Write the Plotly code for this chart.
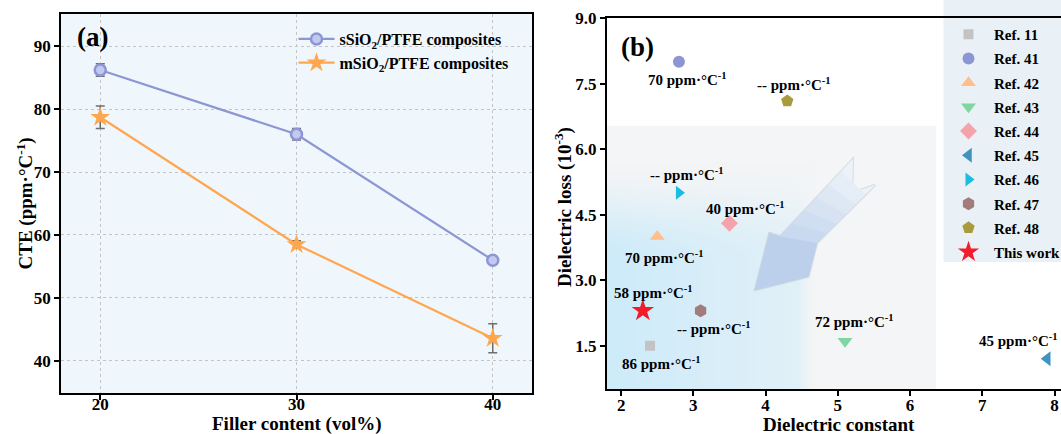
import base64, struct, zlib
import numpy as np
import plotly.graph_objects as go

# ---------------- data ----------------
filler = [20, 30, 40]
s_cte = [86.2, 76.0, 56.0]
s_err = [1.0, 0.9, 0.6]
m_cte = [78.7, 58.5, 43.6]
m_err = [1.8, 0.6, 2.3]

ref_names = ["Ref. 11", "Ref. 41", "Ref. 42", "Ref. 43", "Ref. 44",
             "Ref. 45", "Ref. 46", "Ref. 47", "Ref. 48", "This work"]
ref_dk = [2.4, 2.8, 2.5, 5.1, 3.5, 7.9, 2.8, 3.1, 4.3, 2.3]
ref_df = [1.5, 8.0, 4.0, 1.6, 4.3, 1.2, 5.0, 2.3, 7.1, 2.3]
ref_cte = ["86", "70", "70", "72", "40", "45", "--", "--", "--", "58"]

# ---------------- styles ----------------
ref_symbols = ["square", "circle", "triangle-up", "triangle-down", "diamond",
               "triangle-left", "triangle-right", "hexagon", "pentagon", "star"]
ref_colors = ["#c3c3c3", "#8c96d2", "#ffbe8c", "#80d6a0", "#f5a3aa",
              "#3f94bf", "#18bde0", "#a27c7c", "#a99a3d", "#f21c2a"]
ref_sizes = [10, 12, 13, 13, 13, 13, 12, 13, 13, 17]
# label offsets in pixels (xshift, yshift)
label_shift = [(11, -17), (9, -17), (7, -21), (9, 20), (16, 15),
               (-29, 19), (8, 19), (13, -17), (7, 17), (11, 19)]

FONT = "Liberation Serif, Times New Roman, serif"
W, H = 1061, 434

def px(x):
    return x / W

def py(y):
    return 1 - y / H

def png_uri(arr):
    h, w, _ = arr.shape
    raw = b"".join(b"\x00" + arr[r].tobytes() for r in range(h))
    def chunk(t, d):
        return struct.pack(">I", len(d)) + t + d + struct.pack(">I", zlib.crc32(t + d) & 0xffffffff)
    png = (b"\x89PNG\r\n\x1a\n" + chunk(b"IHDR", struct.pack(">IIBBBBB", w, h, 8, 6, 0, 0, 0))
           + chunk(b"IDAT", zlib.compress(raw, 9)) + chunk(b"IEND", b""))
    return "data:image/png;base64," + base64.b64encode(png).decode()

def smooth(t):
    t = np.clip(t, 0, 1)
    return t * t * (3 - 2 * t)

# background gradient for panel (b)
gx0, gx1, gy0, gy1 = 1.8, 6.36, 0.5, 6.53
n = 200
u = (np.arange(n) + 0.5) / n
v = 1 - (np.arange(n) + 0.5) / n
U, V = np.meshgrid(u, v)
xd = gx0 + U * (gx1 - gx0)
yd = gy0 + V * (gy1 - gy0)
fx = (1 - 0.55 * (xd - 1.8) / 2.7) * (1 - smooth((xd - 4.42) / 0.25))
gy = smooth((5.7 - yd) / 2.3)
sb = np.clip(fx * gy, 0, 1)[..., None]
blue = np.array([205, 235, 250])
gray = np.array([243, 245, 246])
rgb = blue[None, None, :] * sb + gray[None, None, :] * (1 - sb)
img = np.concatenate([rgb, np.full((n, n, 1), 255)], axis=2).astype(np.uint8)
grad_uri = png_uri(img)

fig = go.Figure()

# ---------------- panel (a) ----------------
fig.add_trace(go.Scatter(
    x=filler, y=s_cte, mode="lines+markers", name="sSiO<sub>2</sub>/PTFE composites",
    line=dict(color="#8c96d4", width=2.2),
    marker=dict(symbol="circle", size=11, color="#c3c9ee", line=dict(color="#8c96d4", width=2.5)),
    error_y=dict(type="data", array=s_err, color="#6e6e6e", thickness=1.5, width=4.5),
    xaxis="x", yaxis="y", legend="legend2"))
fig.add_trace(go.Scatter(
    x=filler, y=m_cte, mode="lines+markers", name="mSiO<sub>2</sub>/PTFE composites",
    line=dict(color="#ffa64f", width=2.2),
    marker=dict(symbol="star", size=15, color="#ffa64f"),
    error_y=dict(type="data", array=m_err, color="#6e6e6e", thickness=1.5, width=4.5),
    xaxis="x", yaxis="y", legend="legend2"))

# ---------------- panel (b) ----------------
for i, nm in enumerate(ref_names):
    fig.add_trace(go.Scatter(
        x=[ref_dk[i]], y=[ref_df[i]], mode="markers", name=nm,
        marker=dict(symbol=ref_symbols[i], size=ref_sizes[i], color=ref_colors[i]),
        xaxis="x2", yaxis="y2", legend="legend", legendgroup=nm))

annotations = []
for i, nm in enumerate(ref_names):
    annotations.append(dict(
        x=ref_dk[i], y=ref_df[i], xref="x2", yref="y2", showarrow=False,
        xanchor="center", yanchor="middle",
        text="<b>%s ppm·°C<sup>-1</sup></b>" % ref_cte[i],
        xshift=label_shift[i][0], yshift=label_shift[i][1],
        font=dict(family=FONT, size=15, color="black")))

def paper_text(x, y, text, size, angle=0):
    return dict(x=px(x), y=py(y), xref="paper", yref="paper", text=text, showarrow=False,
                xanchor="center", yanchor="middle", textangle=angle,
                font=dict(family=FONT, size=size, color="black"))

annotations += [
    paper_text(92, 37, "<b>(a)</b>", 27),
    paper_text(637.5, 47, "<b>(b)</b>", 27),
    paper_text(25, 203.5, "<b>CTE (ppm·°C<sup>-1</sup>)</b>", 19, -90),
    paper_text(297, 424, "<b>Filler content (vol%)</b>", 19),
    paper_text(563, 207, "<b>Dielectric loss (10<sup>-3</sup>)</b>", 19, -90),
    paper_text(839, 424, "<b>Dielectric constant</b>", 19),
]

shapes = [
    # panel (a) background
    dict(type="rect", xref="x domain", yref="y domain", x0=0, x1=1, y0=0, y1=1,
         fillcolor="#eff7fc", line=dict(width=0), layer="below"),
    # panel (b) legend box
    dict(type="rect", xref="paper", yref="paper", x0=px(943.5), x1=1.0, y0=py(262), y1=1.0,
         fillcolor="#e9f1f6", line=dict(width=0), layer="below"),
]

# arrow (decoration) in panel (b) data space
L0, L1 = np.array([5.207, 5.769]), np.array([4.201, 3.998])
R0, R1 = np.array([5.516, 5.181]), np.array([4.709, 3.847])
notch = np.array([5.193, 4.991])
LB, TIP, RB = np.array([4.053, 4.075]), np.array([3.855, 2.778]), np.array([4.592, 3.082])

def path(pts):
    return "M" + " L".join("%.4f,%.4f" % (p[0], p[1]) for p in pts) + " Z"

# soft outline / shadow of the whole arrow
shapes.append(dict(type="path", xref="x2", yref="y2",
                   path=path([L0, notch, R0, R1, RB, TIP, LB, L1]),
                   fillcolor="rgba(0,0,0,0)", line=dict(width=2.5, color="rgba(190,198,208,0.55)"),
                   layer="between"))
c_tail = np.array([240, 245, 251])
c_head = np.array([188, 208, 235])
nseg = 6
ts = np.linspace(0, 1, nseg + 1)
for k in range(nseg):
    t1, t2 = ts[k], ts[k + 1]
    Lp, Lq = L0 + (L1 - L0) * t1, L0 + (L1 - L0) * t2
    Rp, Rq = R0 + (R1 - R0) * t1, R0 + (R1 - R0) * t2
    if k == 0:
        pts = [L0, notch, R0, Rq, Lq]
    else:
        pts = [Lp, Rp, Rq, Lq]
    c = c_tail + (c_head - c_tail) * ((t1 + t2) / 2) * 0.8
    col = "rgb(%d,%d,%d)" % tuple(c.astype(int))
    shapes.append(dict(type="path", xref="x2", yref="y2", path=path(pts),
                       fillcolor=col, line=dict(width=0.6, color=col), layer="between"))
col = "rgb(%d,%d,%d)" % tuple(c_head)
shapes.append(dict(type="path", xref="x2", yref="y2", path=path([L1, LB, TIP, RB, R1]),
                   fillcolor=col, line=dict(width=0.6, color=col), layer="between"))

tickfont = dict(family=FONT, size=17, color="black", weight="bold")
axis_common = dict(showline=True, linecolor="black", linewidth=1.8, ticks="outside",
                   ticklen=5, tickwidth=1.6, tickcolor="black", tickfont=tickfont, zeroline=False,
                   automargin=False)

fig.update_layout(
    width=W, height=H, margin=dict(l=0, r=0, t=0, b=0, pad=0, autoexpand=False),
    paper_bgcolor="white", plot_bgcolor="rgba(0,0,0,0)",
    xaxis=dict(domain=[px(61), px(532)], range=[18, 42], tickvals=filler, anchor="y",
               mirror=True, showgrid=True, gridcolor="#c4c4c4", griddash="dot", gridwidth=1,
               ticklabelstandoff=-10, **axis_common),
    yaxis=dict(domain=[1 - 393 / H, 1 - 14 / H], range=[34.9, 95.1], tickvals=[40, 50, 60, 70, 80, 90],
               anchor="x", mirror=True, showgrid=True, gridcolor="#c4c4c4", griddash="dot", gridwidth=1,
               **axis_common),
    xaxis2=dict(domain=[px(606.7), 1.0], range=[1.8, 8.09], tickvals=[2, 3, 4, 5, 6, 7, 8], anchor="y2",
                mirror=True, showgrid=False, ticklabelstandoff=-6, **axis_common),
    yaxis2=dict(domain=[1 - 389.3 / H, 1 - 18.1 / H], range=[0.5, 9.0],
                tickvals=[1.5, 3.0, 4.5, 6.0, 7.5, 9.0], tickformat=".1f", anchor="x2",
                mirror=False, showgrid=False, **axis_common),
    legend=dict(x=px(943), y=py(18), xanchor="left", yanchor="top", bgcolor="rgba(0,0,0,0)",
                borderwidth=0, tracegroupgap=1.7, itemwidth=41, traceorder="grouped",
                font=dict(family=FONT, size=15, color="black", weight="bold")),
    legend2=dict(x=px(293.5), y=py(22), xanchor="left", yanchor="top", bgcolor="rgba(0,0,0,0)",
                 borderwidth=0, itemwidth=36, tracegroupgap=0, traceorder="normal",
                 font=dict(family=FONT, size=16, color="black", weight="bold")),
    showlegend=True,
    annotations=annotations,
    shapes=shapes,
    images=[dict(source=grad_uri, xref="x2", yref="y2", x=gx0, y=gy1, sizex=gx1 - gx0,
                 sizey=gy1 - gy0, xanchor="left", yanchor="top", sizing="stretch", layer="below")],
)

fig.write_html("out.html", config={"displayModeBar": False},
               post_script="document.body.style.margin='0px';document.body.style.overflow='hidden';")
